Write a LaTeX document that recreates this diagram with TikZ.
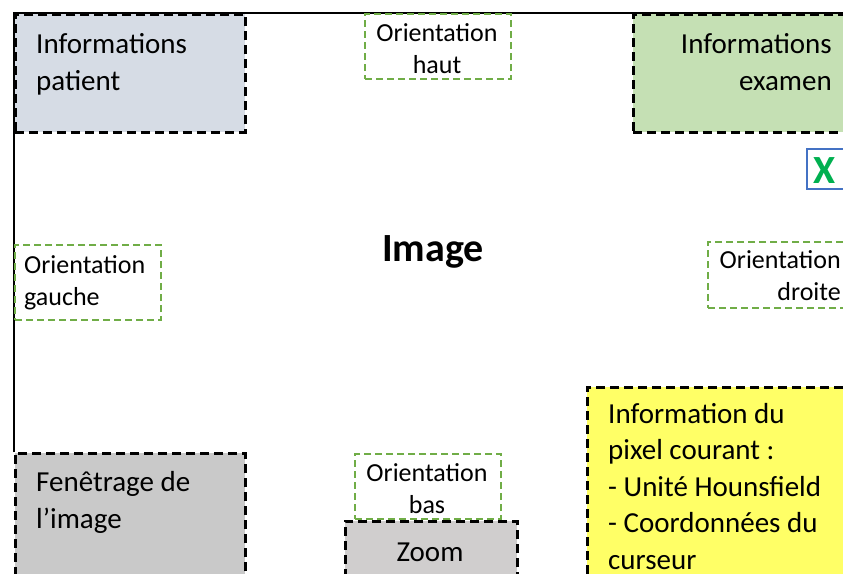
\documentclass[tikz,border=0pt]{standalone}
\usepackage{fontspec}
\setmainfont{Carlito}
\definecolor{patientc}{HTML}{D6DCE5}
\definecolor{examenc}{HTML}{C5E0B4}
\definecolor{fenetrec}{HTML}{C9C9C9}
\definecolor{zoomc}{HTML}{D0CECE}
\definecolor{pixelc}{HTML}{FFFF66}
\definecolor{dashgreen}{HTML}{70AD47}
\definecolor{blueborder}{HTML}{4472C4}
\definecolor{xgreen}{HTML}{00B050}
\begin{document}
\begin{tikzpicture}[x=1pt,y=-1pt,
  frame/.style={draw=black,line width=1.3pt},
  blackbox/.style={draw=black,line width=2.8pt,dash pattern=on 9pt off 5pt,rectangle,inner sep=0pt,anchor=north west},
  greenbox/.style={draw=dashgreen,line width=2.2pt,dash pattern=on 7pt off 4pt,rectangle,inner sep=0pt,anchor=north west,fill=white},
  bigtxt/.style={inner sep=0pt,font=\fontsize{29}{36.5}\selectfont},
  smalltxt/.style={inner sep=0pt,font=\fontsize{26}{32}\selectfont}]
\useasboundingbox (0,0) rectangle (843,573);
\clip (0,0) rectangle (843,573);
\fill[white] (0,0) rectangle (843,573);
% outer frame
\coordinate (fbl) at (14,452);
\coordinate (ftl) at (14,13);
\coordinate (ftr) at (850,13);
\draw[frame] (fbl) -- (ftl) -- (ftr);
% boxes
\node[blackbox,fill=patientc,minimum width=230pt,minimum height=118pt] (patient) at (14,13) {};
\node[blackbox,fill=examenc,minimum width=230pt,minimum height=118pt] (examen) at (632,13) {};
\node[greenbox,minimum width=146pt,minimum height=65pt] (haut) at (364,13) {};
\node[greenbox,minimum width=146pt,minimum height=75pt] (gauche) at (14,244) {};
\node[greenbox,minimum width=150pt,minimum height=66pt] (droite) at (707,241) {};
\node[blackbox,fill=fenetrec,minimum width=230pt,minimum height=140pt] (fenetre) at (14,452) {};
\node[greenbox,minimum width=146pt,minimum height=65pt] (bas) at (354,453) {};
\node[blackbox,fill=zoomc,minimum width=172pt,minimum height=70pt] (zoom) at (344,520) {};
\node[blackbox,fill=pixelc,minimum width=280pt,minimum height=200pt] (pixel) at (586,386) {};
\node[draw=blueborder,line width=2pt,rectangle,inner sep=0pt,anchor=north west,minimum width=60pt,minimum height=40pt,fill=white] (xbox) at (806,148) {};
% texts (base anchor = baseline of last line)
\node[bigtxt,anchor=base west,align=left] (patientt) at (36,90) {Informations\\patient};
\node[bigtxt,anchor=base east,align=right] (exament) at (832,90) {Informations\\examen};
\node[smalltxt,anchor=base,align=center] (hautt) at (437,73) {Orientation\\haut};
\node[smalltxt,anchor=base west,align=left] (gauchet) at (24,305) {Orientation\\gauche};
\node[smalltxt,anchor=base east,align=right] (droitet) at (841,300) {Orientation\\droite};
\node[bigtxt,anchor=base west,align=left] (fenetret) at (36,528) {Fenêtrage de\\l’image};
\node[smalltxt,anchor=base,align=center] (bast) at (427,513) {Orientation\\bas};
\node[bigtxt,anchor=base] (zoomt) at (430,561) {Zoom};
\node[bigtxt,anchor=base west,align=left] (pixelt) at (608,569) {Information du\\pixel courant :\\- Unité Hounsfield\\- Coordonnées du\\curseur};
\node[inner sep=0pt,anchor=base,font=\fontsize{40}{48}\selectfont\bfseries] (imaget) at (433,261) {Image};
\node[inner sep=0pt,anchor=base,font=\fontsize{40}{44}\selectfont\bfseries,text=xgreen] (xt) at (825,183) {X};
\end{tikzpicture}
\end{document}
